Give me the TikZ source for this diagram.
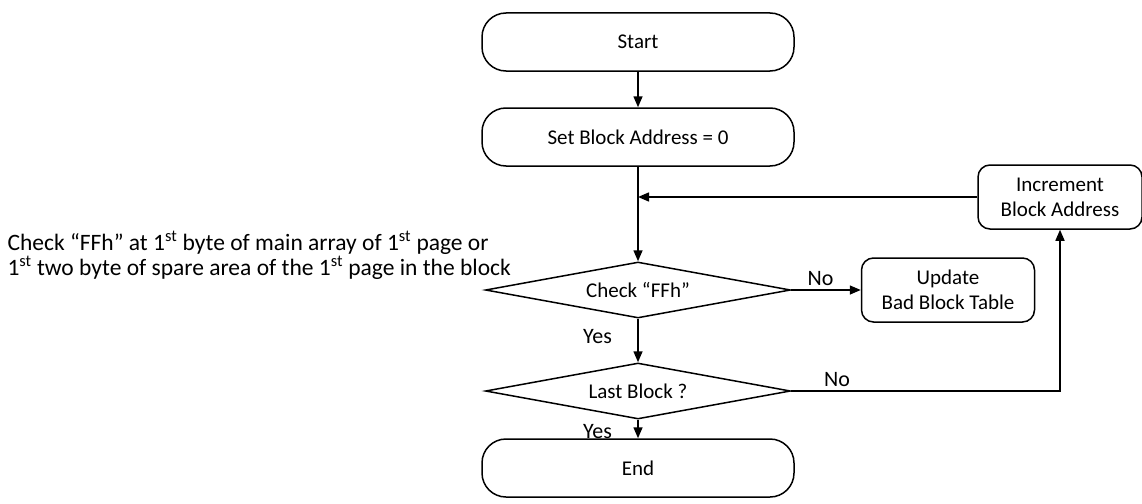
\documentclass[tikz,border=0pt]{standalone}
\usepackage{fontspec}
\setmainfont{Carlito}
\usetikzlibrary{positioning,shapes.geometric,arrows.meta}

\begin{document}
\begin{tikzpicture}[
  x=1pt, y=-1pt,
  every node/.style={font=\fontsize{21}{25}\selectfont},
  terminal/.style={draw, line width=1.5pt, rounded corners=24pt, minimum width=312pt, minimum height=58pt},
  process/.style={draw, line width=1.5pt, rounded corners=12pt, align=center, minimum height=64pt},
  decision/.style={draw, diamond, aspect=5.4, line width=1.5pt, inner sep=0pt, minimum width=305pt, minimum height=56pt},
  flow/.style={draw, line width=1.5pt, -{Triangle[length=11pt,width=9pt]}},
  lbl/.style={font=\fontsize{22}{26}\selectfont}
]
\useasboundingbox (0,0) rectangle (1142,503);

\node[terminal] (start) at (638,42) {Start};
\node[terminal] (setaddr) at (638,137) {Set Block Address = 0};
\node[process, minimum width=164pt] (incr) at (1060,197) {Increment\\Block Address};
\coordinate (join) at (638,197);
\node[decision] (check) at (638,290) {Check “FFh”};
\node[process, minimum width=173pt] (update) at (948,290) {Update\\Bad Block Table};
\node[decision] (last) at (638,391) {Last Block ?};
\node[terminal] (end) at (638,468) {End};

% note on the left of the check
\node[lbl, align=left, anchor=west, font=\fontsize{23.5}{25}\selectfont] (note) at (4,255)
  {Check “FFh” at 1\textsuperscript{st} byte of main array of 1\textsuperscript{st} page or\\
   1\textsuperscript{st} two byte of spare area of the 1\textsuperscript{st} page in the block};

\draw[flow] (start) -- (setaddr);
\draw[flow] (setaddr) -- (check);
\draw[flow] (incr) -- (join);
\draw[flow] (check) -- node[lbl, above, pos=0.42] {No} (update);
\draw[flow] (check) -- node[lbl, left=22pt, pos=0.4] {Yes} (last);
\draw[flow] (last) -- node[lbl, left=22pt, pos=0.65] {Yes} (end);
\draw[flow] (last.east) -- node[lbl, above, pos=0.17] {No} (last.east -| incr.south) -- (incr.south);
\end{tikzpicture}
\end{document}
